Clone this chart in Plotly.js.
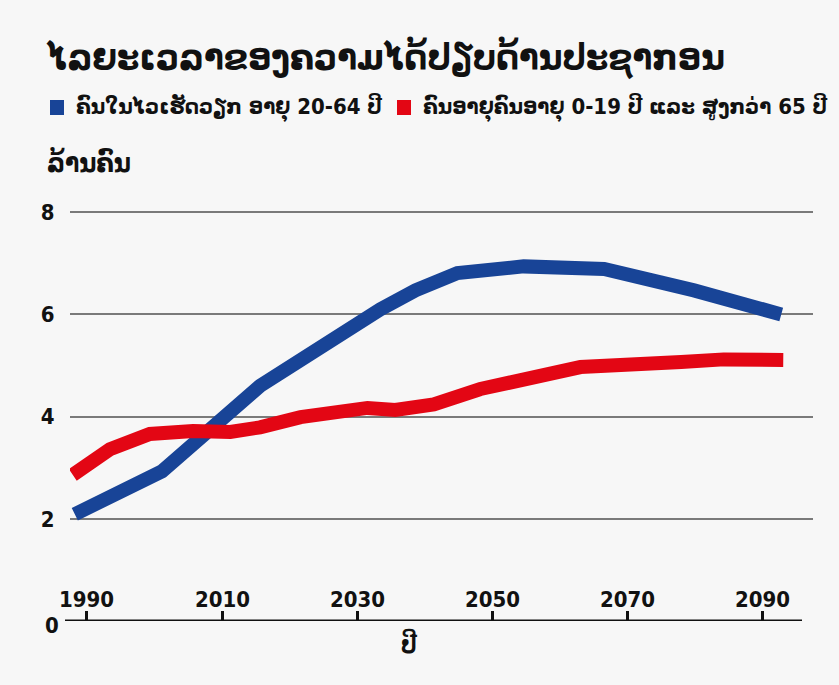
<!DOCTYPE html>
<html>
<head>
<meta charset="utf-8">
<script src="https://cdn.plot.ly/plotly-3.0.1.min.js"></script>
<style>
  html, body { margin: 0; padding: 0; background: #f7f7f7; }
  #chart { width: 839px; height: 685px; }
</style>
</head>
<body>
<div id="chart"></div>
<script>
// ---- Data ----
const titleText = "ໄລຍະເວລາຂອງຄວາມໄດ້ປຽບດ້ານປະຊາກອນ";
const seriesNames = ["ຄົນໃນໄວເຮັດວຽກ ອາຍຸ 20-64 ປີ", "ຄົນອາຍຸຄົນອາຍຸ 0-19 ປີ ແລະ ສູງກວ່າ 65 ປີ"];
const yAxisTitle = "ລ້ານຄົນ";
const xAxisTitle = "ປີ";

const workingYears = [1988.2, 2001.1, 2015.6, 2026.4, 2033.4, 2038.6, 2044.8, 2054.6, 2066.5, 2079.8, 2092.7];
const workingVals  = [2.09, 2.93, 4.60, 5.55, 6.10, 6.47, 6.81, 6.94, 6.89, 6.47, 6.00];

const dependentYears = [1987.9, 1993.4, 1999.3, 2005.7, 2011.2, 2015.6, 2021.6, 2031.5, 2035.6, 2038.9, 2041.3, 2048.2, 2055.6, 2063.0, 2077.9, 2084.2, 2093.0];
const dependentVals  = [2.86, 3.36, 3.66, 3.72, 3.70, 3.79, 3.99, 4.17, 4.13, 4.23, 4.24, 4.54, 4.75, 4.97, 5.07, 5.12, 5.11];

const xTickVals = [1990, 2010, 2030, 2050, 2070, 2090];
const xTickText = ["1990", "2010", "2030", "2050", "2070", "2090"];
const yTickVals = [2, 4, 6, 8];
const yTickText = ["2", "4", "6", "8"];
const yZeroLabel = "0";

// ---- Styles ----
const BLUE = "#184497";
const RED = "#e30614";
const BG = "#f7f7f7";
const NUM_FONT = "'Liberation Sans Narrow', 'DejaVu Sans Condensed', sans-serif";
const LAO_FONT = "'DejaVu Sans Condensed', 'DejaVu Sans', sans-serif";
const MIX_FONT = "'Liberation Sans Narrow', 'DejaVu Sans Condensed', sans-serif";
const INK = "#111";

const W = 839, H = 685;
const M = {l: 70, r: 26, t: 202, b: 64};
const plotW = W - M.l - M.r, plotH = H - M.t - M.b;
const px = x => (x - M.l) / plotW;      // pixel -> paper x
const py = y => (H - M.b - y) / plotH;  // pixel -> paper y

const traces = [
  {x: workingYears, y: workingVals, type: "scatter", mode: "lines", name: seriesNames[0],
   line: {color: BLUE, width: 14}, showlegend: false, hoverinfo: "x+y"},
  {x: dependentYears, y: dependentVals, type: "scatter", mode: "lines", name: seriesNames[1],
   line: {color: RED, width: 14}, showlegend: false, hoverinfo: "x+y"}
];

const numFont = {family: NUM_FONT, size: 22, color: INK, weight: "bold"};

const annotations = [
  {text: seriesNames[0], xref: "paper", yref: "paper", x: px(74), y: py(108), xanchor: "left", yanchor: "middle",
   showarrow: false, font: {family: MIX_FONT, size: 22, color: INK, weight: "bold"}},
  {text: seriesNames[1], xref: "paper", yref: "paper", x: px(421), y: py(108), xanchor: "left", yanchor: "middle",
   showarrow: false, font: {family: MIX_FONT, size: 22, color: INK, weight: "bold"}},
  {text: yAxisTitle, xref: "paper", yref: "paper", x: px(45), y: py(163), xanchor: "left", yanchor: "middle",
   showarrow: false, font: {family: LAO_FONT, size: 26, color: INK, weight: "bold"}},
  {text: xAxisTitle, xref: "paper", yref: "paper", x: px(409), y: py(643), xanchor: "center", yanchor: "middle",
   showarrow: false, font: {family: LAO_FONT, size: 24, color: INK, weight: "bold"}},
  {text: yZeroLabel, xref: "paper", yref: "y", x: px(52), y: 0, xanchor: "center", yanchor: "middle",
   yshift: -4, showarrow: false, font: numFont}
];
xTickVals.forEach((v, i) => annotations.push({
  text: xTickText[i], xref: "x", yref: "paper", x: v, y: py(599), xanchor: "center", yanchor: "middle",
  showarrow: false, font: numFont
}));

const layout = {
  width: W, height: H,
  paper_bgcolor: BG, plot_bgcolor: BG,
  margin: M,
  showlegend: false,
  title: {text: titleText, x: 47 / W, xanchor: "left", y: 1 - 56 / H, yanchor: "middle",
          font: {family: LAO_FONT, size: 36, color: INK, weight: "bold"}},
  xaxis: {
    range: [1987.49, 2097.4], tickvals: xTickVals, ticktext: xTickText,
    showgrid: false, zeroline: false, showline: false,
    ticks: "inside", ticklen: 10, tickwidth: 3, tickcolor: INK,
    showticklabels: false
  },
  yaxis: {
    range: [0, 8.2], tickvals: yTickVals, ticktext: yTickText,
    showgrid: true, gridcolor: "#7a7a7a", gridwidth: 2,
    zeroline: false, showline: false,
    ticks: "outside", ticklen: 10, tickcolor: "rgba(0,0,0,0)",
    tickfont: numFont
  },
  shapes: [
    {type: "line", xref: "paper", yref: "y", x0: px(65), x1: px(802), y0: 0, y1: 0,
     line: {color: INK, width: 3}, layer: "above"},
    {type: "rect", xref: "paper", yref: "paper", x0: px(50), x1: px(64), y0: py(115), y1: py(100),
     fillcolor: BLUE, line: {width: 0}},
    {type: "rect", xref: "paper", yref: "paper", x0: px(397), x1: px(411), y0: py(115), y1: py(100),
     fillcolor: RED, line: {width: 0}}
  ],
  annotations: annotations
};

Plotly.newPlot("chart", traces, layout, {displayModeBar: false, staticPlot: true});
</script>
</body>
</html>
